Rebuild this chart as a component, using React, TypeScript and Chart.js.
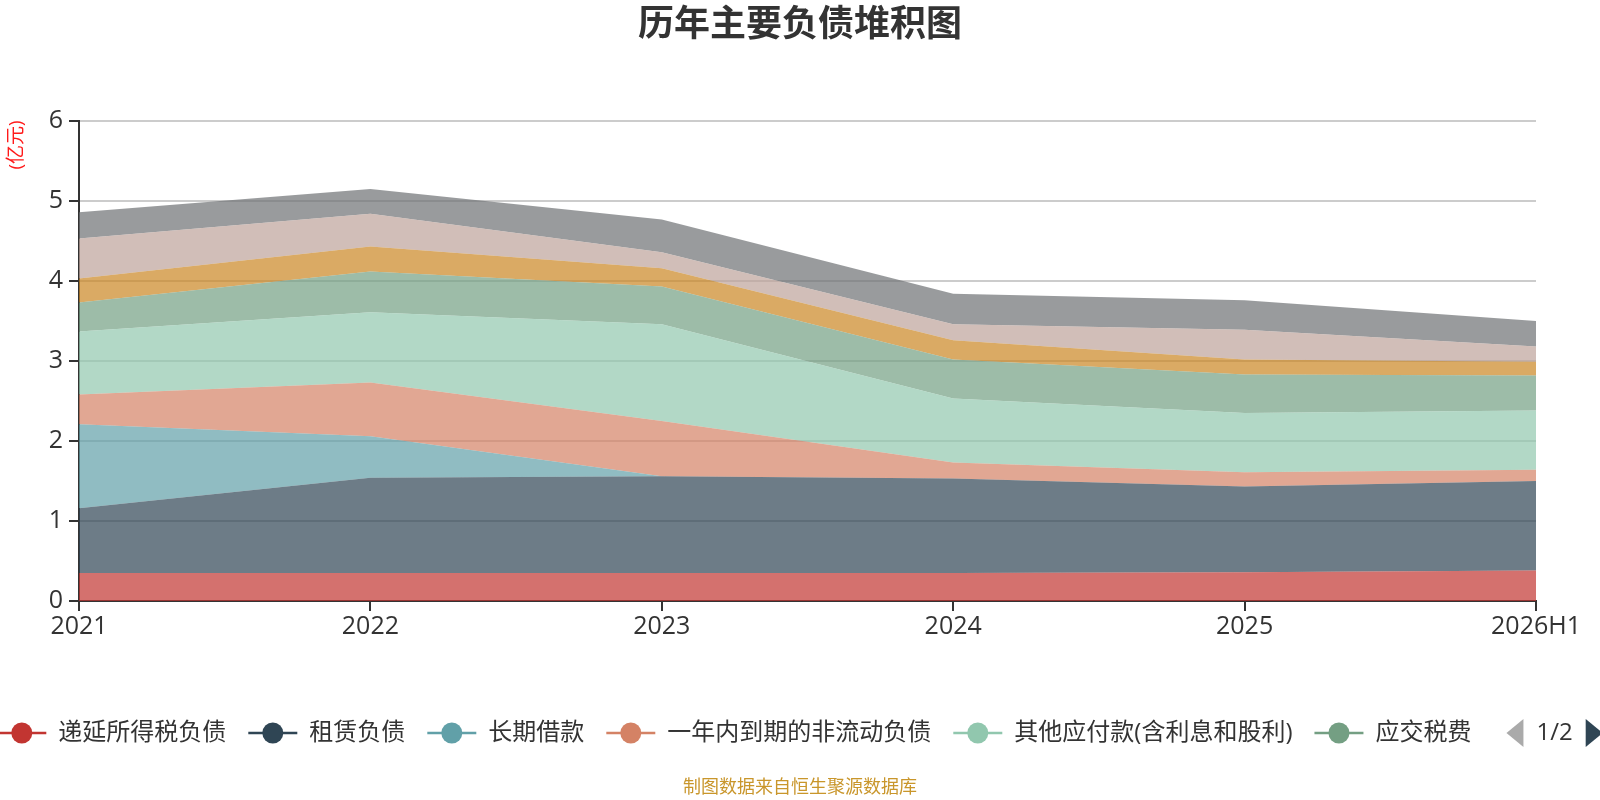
import React, { useEffect, useRef } from 'react';
import { Chart, registerables } from 'chart.js';

Chart.register(...registerables);

const FONT = '"Open Sans", "Noto Sans CJK SC", sans-serif';

const chartTitle = '历年主要负债堆积图';
const unitLabel = '(亿元)';
const footNote = '制图数据来自恒生聚源数据库';
const pagerText = '1/2';

const years = ['2021', '2022', '2023', '2024', '2025', '2026H1'];
const yTicks = [0, 1, 2, 3, 4, 5, 6];

const seriesNames = [
    '递延所得税负债',
    '租赁负债',
    '长期借款',
    '一年内到期的非流动负债',
    '其他应付款(含利息和股利)',
    '应交税费',
    '应付职工薪酬',
    '合同负债',
    '应付票据及应付账款',
];
const seriesColors = ['#c23531', '#2f4554', '#61a0a8', '#d48265', '#91c7ae', '#749f83', '#ca8622', '#bda29a', '#6e7074'];

// 亿元
const deferredTax = [0.35, 0.35, 0.35, 0.35, 0.36, 0.38];
const leaseLiab = [0.81, 1.19, 1.21, 1.18, 1.07, 1.12];
const longLoans = [1.05, 0.52, 0, 0, 0, 0];
const dueWithinYear = [0.37, 0.67, 0.69, 0.2, 0.18, 0.14];
const otherPayables = [0.79, 0.88, 1.21, 0.8, 0.74, 0.74];
const taxesPayable = [0.36, 0.51, 0.47, 0.49, 0.48, 0.44];
const payroll = [0.3, 0.31, 0.23, 0.24, 0.19, 0.17];
const contractLiab = [0.5, 0.41, 0.2, 0.2, 0.37, 0.19];
const accountsPayable = [0.33, 0.31, 0.41, 0.38, 0.37, 0.32];

const seriesValues = [
    deferredTax, leaseLiab, longLoans, dueWithinYear, otherPayables,
    taxesPayable, payroll, contractLiab, accountsPayable,
];
const legendCount = 6;

const withAlpha = (hex: string, a: number) => {
    const n = parseInt(hex.slice(1), 16);
    return `rgba(${(n >> 16) & 255}, ${(n >> 8) & 255}, ${n & 255}, ${a})`;
};

const overlayPlugin = {
    id: 'overlay',
    afterDraw(chart: any) {
        const ctx: CanvasRenderingContext2D = chart.ctx;
        const W = chart.width;
        ctx.save();

        // title
        ctx.font = `bold 36px ${FONT}`;
        ctx.fillStyle = '#333';
        ctx.textAlign = 'center';
        ctx.textBaseline = 'middle';
        ctx.fillText(chartTitle, W / 2, 26);

        // unit, rotated
        ctx.save();
        ctx.translate(17, 145);
        ctx.rotate(-Math.PI / 2);
        ctx.font = `19px ${FONT}`;
        ctx.fillStyle = '#ff1a1a';
        ctx.fillText(unitLabel, 0, 0);
        ctx.restore();

        // legend (page 1 of 2)
        ctx.font = `24px ${FONT}`;
        const markW = 49, gapText = 12, gapItem = 22, pagerGap = 35;
        const arrowW = 17, arrowGap = 13;
        const names = seriesNames.slice(0, legendCount);
        const widths = names.map((n) => ctx.measureText(n).width);
        const pagerTW = ctx.measureText(pagerText).width;
        const pagerW = arrowW + arrowGap + pagerTW + arrowGap + arrowW;
        const total = widths.reduce((s, w) => s + markW + gapText + w, 0) + gapItem * (names.length - 1) + pagerGap + pagerW;
        let x = (W - total) / 2;
        const ly = 733;
        ctx.textAlign = 'left';
        names.forEach((n, i) => {
            const c = seriesColors[i];
            ctx.strokeStyle = c;
            ctx.lineWidth = 2.5;
            ctx.beginPath();
            ctx.moveTo(x, ly);
            ctx.lineTo(x + markW, ly);
            ctx.stroke();
            ctx.fillStyle = c;
            ctx.beginPath();
            ctx.arc(x + markW / 2, ly, 10.5, 0, Math.PI * 2);
            ctx.fill();
            ctx.fillStyle = '#333';
            ctx.fillText(n, x + markW + gapText, ly);
            x += markW + gapText + widths[i] + gapItem;
        });
        x += pagerGap - gapItem;
        ctx.fillStyle = '#aaa';
        ctx.beginPath();
        ctx.moveTo(x + arrowW, ly - 14);
        ctx.lineTo(x + arrowW, ly + 14);
        ctx.lineTo(x, ly);
        ctx.closePath();
        ctx.fill();
        x += arrowW + arrowGap;
        ctx.fillStyle = '#333';
        ctx.fillText(pagerText, x, ly);
        x += pagerTW + arrowGap;
        ctx.fillStyle = '#2f4554';
        ctx.beginPath();
        ctx.moveTo(x, ly - 14);
        ctx.lineTo(x, ly + 14);
        ctx.lineTo(x + arrowW, ly);
        ctx.closePath();
        ctx.fill();

        // footnote
        ctx.font = `18px ${FONT}`;
        ctx.fillStyle = '#c9962b';
        ctx.textAlign = 'center';
        ctx.fillText(footNote, W / 2, 788);

        ctx.restore();
    },
};

const App: React.FC = () => {
    const chartRef = useRef<HTMLCanvasElement>(null);

    useEffect(() => {
        if (!chartRef.current) return;
        const chart = new Chart(chartRef.current, {
            type: 'line',
            data: {
                labels: years,
                datasets: seriesValues.map((vals, i) => ({
                    label: seriesNames[i],
                    data: vals,
                    backgroundColor: withAlpha(seriesColors[i], 0.7),
                    borderColor: seriesColors[i],
                    borderWidth: 0,
                    pointRadius: 0,
                    tension: 0,
                    fill: i === 0 ? 'origin' : '-1',
                })),
            },
            options: {
                animation: false,
                responsive: true,
                maintainAspectRatio: false,
                layout: { padding: { top: 121, right: 64, bottom: 159, left: 0 } },
                plugins: {
                    legend: { display: false },
                    title: { display: false },
                    tooltip: { enabled: false },
                },
                scales: {
                    x: {
                        offset: false,
                        afterFit: (s: any) => { s.height = 40; },
                        grid: {
                            drawOnChartArea: false,
                            drawTicks: true,
                            tickLength: 10,
                            tickColor: '#333',
                            lineWidth: 2,
                        },
                        border: { color: '#333', width: 2 },
                        ticks: {
                            color: '#333',
                            padding: 1,
                            maxRotation: 0,
                            autoSkip: false,
                            font: { family: FONT, size: 25 },
                        },
                    },
                    y: {
                        stacked: true,
                        min: yTicks[0],
                        max: yTicks[yTicks.length - 1],
                        afterFit: (s: any) => { s.width = 79; },
                        grid: {
                            color: '#ccc',
                            lineWidth: 2,
                            tickLength: 10,
                            tickColor: '#333',
                        },
                        border: { color: '#333', width: 2 },
                        ticks: {
                            stepSize: 1,
                            color: '#333',
                            padding: 6,
                            font: { family: FONT, size: 25 },
                        },
                    },
                },
            },
            plugins: [overlayPlugin],
        });
        return () => chart.destroy();
    }, []);

    return (
        <div style={{ position: 'fixed', left: 0, top: 0, width: 1600, height: 800, background: '#fff' }}>
            <canvas ref={chartRef} />
        </div>
    );
};

export default App;
